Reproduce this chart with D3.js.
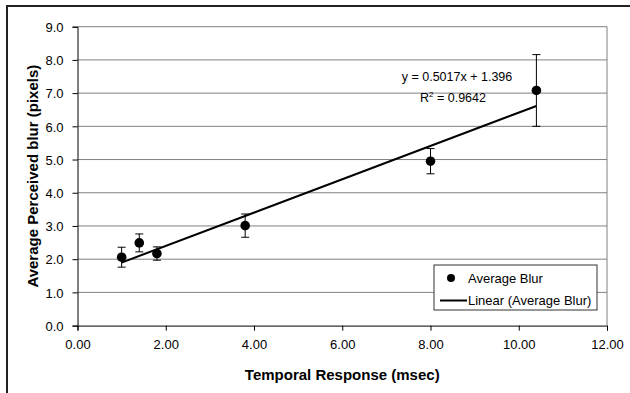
<!DOCTYPE html>
<html>
<head>
<meta charset="utf-8">
<script src="https://cdn.jsdelivr.net/npm/d3@7"></script>
<style>
  body { margin: 0; background: #fff; }
  svg { font-family: "Liberation Sans", Arial, sans-serif; }
</style>
</head>
<body>
<svg id="chart" width="630" height="393"></svg>
<script>
// Perceived blur vs temporal response, with error bars and linear fit
const responseMs = [1.0, 1.4, 1.8, 3.8, 8.0, 10.4];
const avgBlur = [2.06, 2.49, 2.17, 3.01, 4.95, 7.08];
const blurErr = [0.30, 0.27, 0.20, 0.35, 0.38, 1.08];
const fitSlope = 0.5017;
const fitIntercept = 1.396;
const xTicks = [0, 2, 4, 6, 8, 10, 12];
const yTicks = [0, 1, 2, 3, 4, 5, 6, 7, 8, 9];

const svg = d3.select('#chart');
const margin = {top: 26.7, right: 23, bottom: 67.4, left: 77.5};
const width = 630 - margin.left - margin.right;
const height = 393 - margin.top - margin.bottom;

// outer chart frame (only left and top edges fall inside the view)
svg.append('rect')
    .attr('x', 7).attr('y', 6)
    .attr('width', 640).attr('height', 400)
    .attr('fill', 'none')
    .attr('stroke', '#222')
    .attr('stroke-width', 2);

const g = svg.append('g')
    .attr('transform', `translate(${margin.left},${margin.top})`);

const x = d3.scaleLinear().domain([0, 12]).range([0, width]);
const y = d3.scaleLinear().domain([0, 9]).range([height, 0]);

// gridlines
g.append('g')
    .selectAll('line')
    .data(yTicks.filter(d => d > 0))
    .enter().append('line')
    .attr('x1', 0).attr('x2', width)
    .attr('y1', d => y(d)).attr('y2', d => y(d))
    .attr('stroke', '#808080')
    .attr('stroke-width', 1);

// plot area right edge
g.append('line')
    .attr('x1', width).attr('x2', width)
    .attr('y1', 0).attr('y2', height)
    .attr('stroke', '#808080');

// axes
const xAxis = g.append('g')
    .attr('transform', `translate(0,${height})`)
    .call(d3.axisBottom(x).tickValues(xTicks).tickFormat(d3.format('.2f')).tickSize(5).tickPadding(9));

const yAxis = g.append('g')
    .call(d3.axisLeft(y).tickValues(yTicks).tickFormat(d3.format('.1f')).tickSize(5).tickPadding(9));

[xAxis, yAxis].forEach(ax => {
    ax.select('.domain').attr('stroke', '#000');
    ax.selectAll('.tick line').attr('stroke', '#000');
    ax.selectAll('text')
        .attr('fill', '#000')
        .style('font-size', '13px');
});
yAxis.selectAll('text').attr('dy', '0.36em');

// axis titles
svg.append('text')
    .attr('x', margin.left + width / 2)
    .attr('y', 380)
    .attr('text-anchor', 'middle')
    .style('font-size', '15px')
    .style('font-weight', 'bold')
    .text('Temporal Response (msec)');

svg.append('text')
    .attr('transform', `translate(38,${margin.top + height / 2}) rotate(-90)`)
    .attr('text-anchor', 'middle')
    .style('font-size', '15px')
    .style('font-weight', 'bold')
    .text('Average Perceived blur (pixels)');

// linear trend line across the data range
const xMin = d3.min(responseMs), xMax = d3.max(responseMs);
g.append('line')
    .attr('x1', x(xMin)).attr('y1', y(fitSlope * xMin + fitIntercept))
    .attr('x2', x(xMax)).attr('y2', y(fitSlope * xMax + fitIntercept))
    .attr('stroke', '#000')
    .attr('stroke-width', 2);

const pts = responseMs.map((v, i) => ({x: v, y: avgBlur[i], e: blurErr[i]}));

// error bars
const eb = g.append('g').selectAll('g').data(pts).enter().append('g');
eb.append('line')
    .attr('x1', d => x(d.x)).attr('x2', d => x(d.x))
    .attr('y1', d => y(d.y - d.e)).attr('y2', d => y(d.y + d.e))
    .attr('stroke', '#000');
[-1, 1].forEach(s => {
    eb.append('line')
        .attr('x1', d => x(d.x) - 4).attr('x2', d => x(d.x) + 4)
        .attr('y1', d => y(d.y + s * d.e)).attr('y2', d => y(d.y + s * d.e))
        .attr('stroke', '#000');
});

// points
g.append('g').selectAll('circle')
    .data(pts)
    .enter().append('circle')
    .attr('cx', d => x(d.x))
    .attr('cy', d => y(d.y))
    .attr('r', 4.8)
    .attr('fill', '#000');

// fit equation
svg.append('text')
    .attr('x', 457).attr('y', 81)
    .attr('text-anchor', 'middle')
    .style('font-size', '12.5px')
    .text(`y = ${fitSlope}x + ${fitIntercept}`);
const r2 = svg.append('text')
    .attr('x', 453).attr('y', 102)
    .attr('text-anchor', 'middle')
    .style('font-size', '12.5px');
r2.append('tspan').text('R');
r2.append('tspan').attr('dy', -5).style('font-size', '8px').text('2');
r2.append('tspan').attr('dy', 5).text(' = 0.9642');

// legend
const legend = svg.append('g').attr('transform', 'translate(434,265)');
legend.append('rect')
    .attr('width', 163).attr('height', 45)
    .attr('fill', '#fff')
    .attr('stroke', '#333');
legend.append('circle').attr('cx', 17).attr('cy', 13).attr('r', 4).attr('fill', '#000');
legend.append('text').attr('x', 34).attr('y', 17.5).style('font-size', '13px').text('Average Blur');
legend.append('line').attr('x1', 6).attr('x2', 33).attr('y1', 35.5).attr('y2', 35.5)
    .attr('stroke', '#000').attr('stroke-width', 2);
legend.append('text').attr('x', 34).attr('y', 40).style('font-size', '13px').text('Linear (Average Blur)');
</script>
</body>
</html>
